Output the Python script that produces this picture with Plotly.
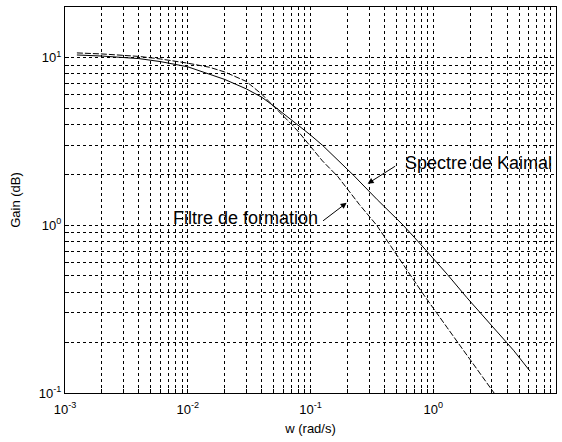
import numpy as np
import plotly.graph_objects as go

# Data
w_kaimal = [0.00125, 0.002, 0.004, 0.006, 0.01, 0.015, 0.02, 0.03, 0.04, 0.05, 0.06,
            0.078, 0.1, 0.125, 0.166, 0.222, 0.35, 0.57, 0.857, 1.3, 1.88, 3.0, 4.5, 6.14]
g_kaimal = [10.35, 10.2, 9.85, 9.45, 8.8, 8.0, 7.4, 6.5, 5.8, 5.15, 4.65,
            4.0, 3.45, 3.0, 2.45, 2.0, 1.42, 1.0, 0.72, 0.51, 0.37, 0.25, 0.18, 0.135]

w_filtre = [0.00125, 0.002, 0.004, 0.006, 0.01, 0.015, 0.02, 0.03, 0.04, 0.05, 0.06,
            0.07, 0.08, 0.1, 0.125, 0.167, 0.25, 0.346, 0.5, 0.826, 1.3, 2.0, 3.13]
g_filtre = [10.65, 10.5, 10.15, 9.8, 9.25, 8.75, 8.2, 7.2, 6.05, 5.15, 4.5,
            4.0, 3.6, 2.95, 2.42, 1.95, 1.33, 1.0, 0.67, 0.39, 0.245, 0.158, 0.1]

x_decades = [0.001, 0.01, 0.1, 1, 10]
x_labels = ["10<sup>-3</sup>", "10<sup>-2</sup>", "10<sup>-1</sup>", "10<sup>0</sup>", "10<sup>1</sup>"]
y_decades = [0.1, 1, 10]
y_labels = ["10<sup>-1</sup>", "10<sup>0</sup>", "10<sup>1</sup>"]

label_kaimal = "Spectre de Kaimal"
label_filtre = "Filtre de formation"


def log_ticks(decades, labels, upper):
    vals, texts = [], []
    for d, lab in zip(decades, labels):
        for m in range(1, 10):
            v = d * m
            if v > upper * 1.0001:
                break
            vals.append(v)
            texts.append(lab if m == 1 else "")
    return vals, texts


xv, xt = log_ticks(x_decades, x_labels, 10)
yv, yt = log_ticks(y_decades, y_labels, 20)

font = "Liberation Sans, Arial, sans-serif"

fig = go.Figure()
fig.add_trace(go.Scatter(x=w_kaimal, y=g_kaimal, mode="lines",
                         line=dict(color="black", width=1), name=label_kaimal,
                         showlegend=False))
fig.add_trace(go.Scatter(x=w_filtre, y=g_filtre, mode="lines",
                         line=dict(color="black", width=1, dash="6px,2px"),
                         name=label_filtre, showlegend=False))

axis_common = dict(
    type="log", tickmode="array", showgrid=True, gridcolor="black", gridwidth=1,
    griddash="3px,3px", showline=True, linecolor="black", linewidth=1, mirror=True,
    ticks="inside", ticklen=4, tickcolor="black", zeroline=False,
    tickfont=dict(family=font, size=13, color="black"),
)

fig.update_xaxes(range=[-3, 1], tickvals=xv, ticktext=xt, ticklabelstandoff=4,
                 title=dict(text="w (rad/s)", font=dict(family=font, size=13, color="black"), standoff=8),
                 **axis_common)
fig.update_yaxes(range=[-1, np.log10(20)], tickvals=yv, ticktext=yt,
                 title=dict(text="Gain (dB)", font=dict(family=font, size=13, color="black"), standoff=15),
                 **axis_common)

# annotations (log axes: positions in log10 units)
fig.add_annotation(x=np.log10(0.292), y=np.log10(1.77), ax=np.log10(0.504), ay=np.log10(2.28),
                   axref="x", ayref="y", text="", showarrow=True, arrowhead=2,
                   arrowsize=1.2, arrowwidth=1, arrowcolor="black")
fig.add_annotation(x=np.log10(0.197), y=np.log10(1.36), ax=np.log10(0.123), ay=np.log10(1.046),
                   axref="x", ayref="y", text="", showarrow=True, arrowhead=2,
                   arrowsize=1.2, arrowwidth=1, arrowcolor="black")
fig.add_annotation(x=-0.246, y=0.369, text=label_kaimal, showarrow=False,
                   xanchor="left", yanchor="middle",
                   font=dict(family=font, size=18, color="black"))
fig.add_annotation(x=-0.923, y=0.042, text=label_filtre, showarrow=False,
                   xanchor="right", yanchor="middle",
                   font=dict(family=font, size=18, color="black"))

fig.update_layout(
    width=562, height=442,
    margin=dict(l=65, r=6, t=7, b=49),
    paper_bgcolor="white", plot_bgcolor="white",
    showlegend=False,
)

fig.write_html("out.html", post_script="document.body.style.margin='0';",
               config={"displayModeBar": False})
